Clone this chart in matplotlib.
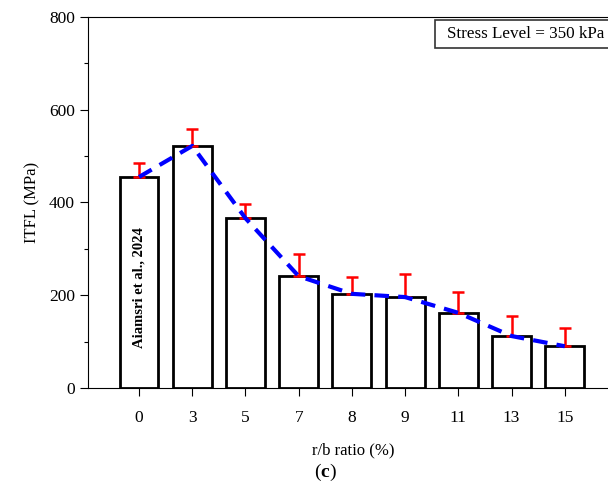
import matplotlib
matplotlib.use('Agg')
import matplotlib.pyplot as plt
from matplotlib.patches import Rectangle
from matplotlib.ticker import MultipleLocator
import numpy as np

ratios = ['0', '3', '5', '7', '8', '9', '11', '13', '15']
itfl = [455, 522, 366, 241, 203, 196, 162, 112, 90]
err_up = [30, 36, 31, 48, 37, 49, 45, 43, 39]

plt.rcParams['font.family'] = 'Liberation Serif'
plt.rcParams['mathtext.fontset'] = 'custom'
plt.rcParams['mathtext.bf'] = 'Liberation Serif:bold'

fig = plt.figure(figsize=(6.08, 4.95), dpi=100)
ax = fig.add_axes([0.1447, 0.2162, 0.8717, 0.7495])

x = np.arange(len(ratios))
ax.bar(x, itfl, width=0.73, color='white', edgecolor='black', linewidth=2, zorder=2)
ax.errorbar(x, itfl, yerr=[np.zeros(len(itfl)), err_up], fmt='none',
            ecolor='red', elinewidth=1.8, capsize=4, capthick=1.8, zorder=3)
ax.plot(x, itfl, color='blue', linestyle=(0, (3.5, 2.2)), linewidth=3, zorder=4)

ax.text(0, 217, 'Aiamsri et al., 2024', rotation=90, ha='center', va='center',
        fontsize=10.5, fontweight='bold', zorder=5)

ax.set_xlim(-0.96, 9.0)
ax.set_ylim(0, 800)
ax.set_xticks(x)
ax.set_xticklabels(ratios)
ax.yaxis.set_major_locator(MultipleLocator(200))
ax.yaxis.set_minor_locator(MultipleLocator(100))
ax.tick_params(axis='both', which='major', labelsize=12.5, direction='out', length=6, width=0.8)
ax.tick_params(axis='y', which='minor', direction='out', length=3, width=0.8)
ax.tick_params(axis='x', pad=10)
ax.spines['right'].set_visible(False)

ax.set_ylabel('ITFL (MPa)', fontsize=12, labelpad=6)
ax.set_xlabel('r/b ratio (%)', fontsize=12, labelpad=12)

# note box in the upper right corner
ax.add_patch(Rectangle((0.6547, 0.9164), 0.36, 0.0756, transform=ax.transAxes,
                       facecolor='white', edgecolor='#333333', linewidth=1.2,
                       clip_on=False, zorder=6))
ax.text(0.677, 0.954, 'Stress Level = 350 kPa', transform=ax.transAxes,
        ha='left', va='center', fontsize=12.3, zorder=7)

fig.text(0.535, 0.045, r'($\mathbf{c}$)', ha='center', va='center', fontsize=14)

fig.savefig('out.png', dpi=100)
